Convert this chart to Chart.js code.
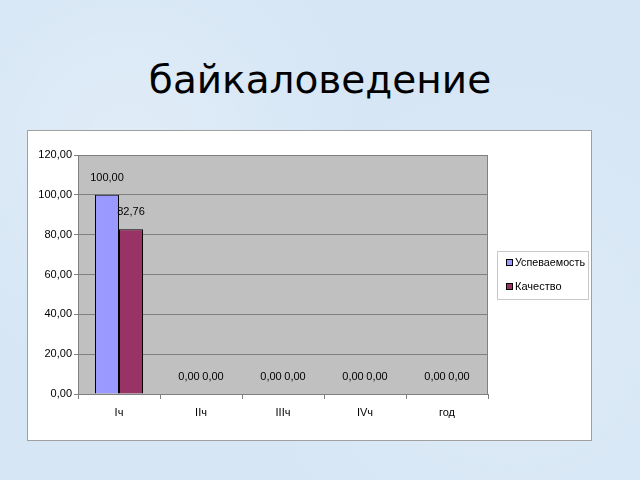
<!DOCTYPE html>
<html>
<head>
<meta charset="utf-8">
<script src="https://cdn.jsdelivr.net/npm/chart.js@4/dist/chart.umd.min.js"></script>
<style>
  html, body { margin: 0; padding: 0; }
  body {
    width: 640px; height: 480px; overflow: hidden; position: relative;
    background-color: #d6e6f5;
    background-image:
      radial-gradient(circle at 20% 30%, rgba(255,255,255,0.25) 0, rgba(255,255,255,0) 40%),
      radial-gradient(circle at 80% 70%, rgba(255,255,255,0.2) 0, rgba(255,255,255,0) 45%);
  }
  #title {
    position: absolute; left: 0; top: 57px; width: 640px; text-align: center;
    font-family: "DejaVu Sans", sans-serif; font-size: 39px; color: #000;
  }
  #box {
    position: absolute; left: 27px; top: 130px; width: 563px; height: 309px;
    background: #fff; border: 1px solid #a0a0a0;
  }
  #chart { display: block; }
</style>
</head>
<body>
<div id="title">байкаловедение</div>
<div id="box"><canvas id="chart" width="563" height="309"></canvas></div>
<script>
// Chart data
const categories = ['Iч', 'IIч', 'IIIч', 'IVч', 'год'];
const uspevaemost = [100.00, 0.00, 0.00, 0.00, 0.00];
const kachestvo = [82.76, 0.00, 0.00, 0.00, 0.00];
const seriesNames = ['Успеваемость', 'Качество'];
const yTicks = [0, 20, 40, 60, 80, 100, 120];

const FONT = '"Liberation Sans", Arial, sans-serif';

function fmt(v) {
    return v.toFixed(2).replace('.', ',');
}

// grey plot area background
const plotBackground = {
    id: 'plotBackground',
    beforeDraw(chart) {
        const a = chart.chartArea;
        const ctx = chart.ctx;
        ctx.save();
        ctx.fillStyle = '#c0c0c0';
        ctx.fillRect(a.left, a.top, a.right - a.left, a.bottom - a.top);
        ctx.restore();
    },
    afterDraw(chart) {
        const a = chart.chartArea;
        const ctx = chart.ctx;
        ctx.save();
        ctx.strokeStyle = '#808080';
        ctx.lineWidth = 1;
        ctx.strokeRect(a.left + 0.5, a.top + 0.5, a.right - a.left - 1, a.bottom - a.top);
        ctx.restore();
    }
};

// value labels above each bar
const valueLabels = {
    id: 'valueLabels',
    afterDatasetsDraw(chart) {
        const ctx = chart.ctx;
        ctx.save();
        ctx.font = '11px ' + FONT;
        ctx.fillStyle = '#000';
        ctx.textAlign = 'center';
        ctx.textBaseline = 'middle';
        chart.data.datasets.forEach((ds, i) => {
            chart.getDatasetMeta(i).data.forEach((bar, j) => {
                ctx.fillText(fmt(ds.data[j]), bar.x, bar.y - 17);
            });
        });
        ctx.restore();
    }
};

// Excel style legend box on the right
const boxLegend = {
    id: 'boxLegend',
    afterDraw(chart) {
        const ctx = chart.ctx;
        const x = 469, y = 120, w = 91, h = 48;
        ctx.save();
        ctx.strokeStyle = '#c8c8c8';
        ctx.lineWidth = 1;
        ctx.strokeRect(x + 0.5, y + 0.5, w, h);
        ctx.font = '11px ' + FONT;
        ctx.textBaseline = 'middle';
        chart.data.datasets.forEach((ds, i) => {
            const cy = y + 12 + i * 24;
            ctx.fillStyle = ds.backgroundColor;
            ctx.fillRect(x + 9.5, cy - 3.5, 6, 6);
            ctx.strokeStyle = '#000';
            ctx.strokeRect(x + 9.5, cy - 3.5, 6, 6);
            ctx.fillStyle = '#000';
            ctx.fillText(ds.label, x + 18, cy, 70);
        });
        ctx.restore();
    }
};

new Chart(document.getElementById('chart'), {
    type: 'bar',
    data: {
        labels: categories,
        datasets: [{
            label: seriesNames[0],
            data: uspevaemost,
            backgroundColor: '#9999ff',
            borderColor: '#000000',
            borderWidth: 1,
            categoryPercentage: 0.585,
            barPercentage: 1
        }, {
            label: seriesNames[1],
            data: kachestvo,
            backgroundColor: '#993366',
            borderColor: '#000000',
            borderWidth: 1,
            categoryPercentage: 0.585,
            barPercentage: 1
        }]
    },
    options: {
        responsive: false,
        animation: false,
        layout: { padding: { left: 0, right: 103, top: 24, bottom: 0 } },
        plugins: {
            legend: { display: false },
            tooltip: { enabled: false }
        },
        scales: {
            x: {
                offset: true,
                grid: {
                    offset: true,
                    drawOnChartArea: false,
                    drawTicks: true,
                    tickLength: 5,
                    color: '#808080'
                },
                border: { color: '#808080' },
                ticks: { color: '#000', font: { family: FONT, size: 11 }, padding: 7 },
                afterFit(scale) { scale.height = 46; }
            },
            y: {
                min: 0,
                max: 120,
                afterBuildTicks(scale) { scale.ticks = yTicks.map(v => ({ value: v })); },
                grid: { color: '#808080', tickLength: 4 },
                border: { color: '#808080' },
                ticks: {
                    color: '#000',
                    font: { family: FONT, size: 11 },
                    padding: 2,
                    callback: v => fmt(v)
                },
                afterFit(scale) { scale.width = 50; }
            }
        }
    },
    plugins: [plotBackground, valueLabels, boxLegend]
});
</script>
</body>
</html>
